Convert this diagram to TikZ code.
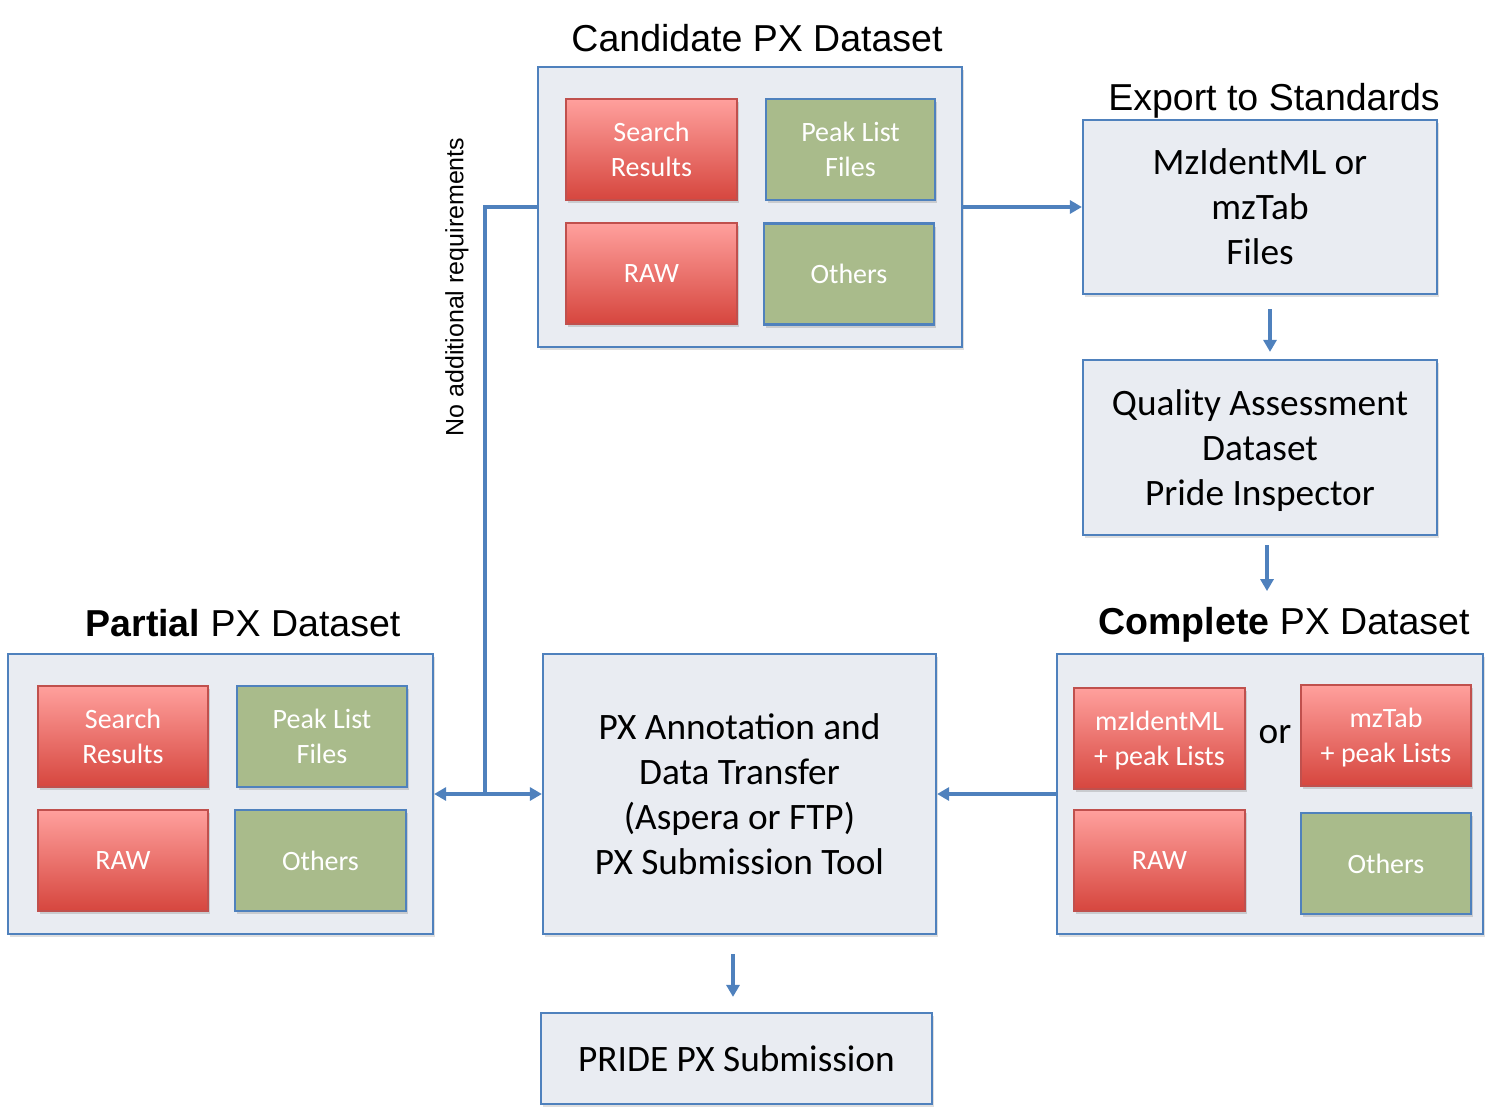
\documentclass[tikz,border=0pt]{standalone}
\usepackage{fontspec}
\setmainfont{Carlito}
\newfontfamily\pxarial{Liberation Sans}
\usetikzlibrary{arrows.meta,shadows}
\definecolor{pxblue}{HTML}{4F81BD}
\definecolor{pxbg}{HTML}{E9ECF2}
\definecolor{redtop}{RGB}{255,160,157}
\definecolor{redbot}{RGB}{214,70,62}
\definecolor{redline}{RGB}{192,80,77}
\definecolor{pxgreen}{RGB}{169,187,139}
\newcommand\pxsmallfont{\fontsize{28}{35}\selectfont}
\newcommand\pxbigfont{\fontsize{37.3}{45}\selectfont}
\newcommand\pxtitlefont{\pxarial\fontsize{37.5}{45}\selectfont}
\begin{document}
\begin{tikzpicture}[x=1pt,y=-1pt,
  container/.style={draw=pxblue, fill=pxbg, line width=2.2pt, inner sep=0pt,
    drop shadow={opacity=0.25, shadow xshift=2pt, shadow yshift=-3pt}},
  bigbox/.style={container, font=\pxbigfont, align=center, text=black, text depth=0pt},
  redbox/.style={draw=redline, line width=1.8pt, top color=redtop, bottom color=redbot,
    text=white, font=\pxsmallfont, align=center, inner sep=0pt, text depth=0pt,
    minimum width=171pt, minimum height=101pt,
    drop shadow={opacity=0.3, shadow xshift=2pt, shadow yshift=-3pt}},
  greenbox/.style={draw=pxblue, line width=2.2pt, fill=pxgreen,
    text=white, font=\pxsmallfont, align=center, inner sep=0pt, text depth=0pt,
    minimum width=170pt, minimum height=101pt,
    drop shadow={opacity=0.3, shadow xshift=2pt, shadow yshift=-3pt}},
  title/.style={font=\pxtitlefont, anchor=base, inner sep=0pt, text=black},
  conn/.style={draw=pxblue, line width=3.8pt},
  arr/.style={conn, -{Triangle[length=12pt,width=13pt]}}
]
\useasboundingbox (0,0) rectangle (1493,1114);

% Candidate PX Dataset
\node[title] (tcand) at (757,51) {Candidate PX Dataset};
\node[container, minimum width=424pt, minimum height=280pt] (cand) at (750,207) {};
\node[redbox] (cs) at (651.5,149.5) {Search\\Results};
\node[greenbox, minimum width=169pt] (cp) at (850.5,149.5) {Peak List\\Files};
\node[redbox] (cr) at (651.5,273.5) {RAW};
\node[greenbox] (co) at (849,274) {Others};

% Export to standards
\node[title] (texp) at (1274,110) {Export to Standards};
\node[bigbox, minimum width=354pt, minimum height=174pt] (mz) at (1260,207) {MzIdentML or\\mzTab\\Files};
\node[bigbox, minimum width=354pt, minimum height=175pt] (qa) at (1260,447.5) {Quality Assessment\\Dataset\\Pride Inspector};

% Complete PX Dataset
\node[title] (tcomp) at (1284,634) {\textbf{Complete} PX Dataset};
\node[container, minimum width=426pt, minimum height=280pt] (comp) at (1270,794) {};
\node[redbox] (m1) at (1159.5,738.5) {mzIdentML\\+ peak Lists};
\node[redbox, minimum width=170pt] (m2) at (1386,735.5) {mzTab\\+ peak Lists};
\node[redbox] (cr2) at (1159.5,860.5) {RAW};
\node[greenbox] (co2) at (1386,863.5) {Others};
\node[font=\pxbigfont, text=black] (or) at (1275,735) {or};

% PX annotation
\node[bigbox, minimum width=393pt, minimum height=280pt] (px) at (739.5,794) {PX Annotation and\\Data Transfer\\(Aspera or FTP)\\PX Submission Tool};
\node[bigbox, minimum width=391pt, minimum height=91pt] (pride) at (736.5,1058.5) {PRIDE PX Submission};

% Partial PX Dataset
\node[title] (tpart) at (243,636) {\textbf{Partial} PX Dataset};
\node[container, minimum width=425pt, minimum height=280pt] (part) at (220.5,794) {};
\node[redbox, minimum width=170pt] (ps) at (123,736.5) {Search\\Results};
\node[greenbox] (pp) at (322,736.5) {Peak List\\Files};
\node[redbox, minimum width=170pt] (pr) at (123,860.5) {RAW};
\node[greenbox, minimum width=171pt] (po) at (320.5,860.5) {Others};

% connectors
\coordinate (j1) at (485,207);
\coordinate (j2) at (485,794);
\draw[arr] (cand.east) -- (mz.west);
\draw[arr] ([xshift=10pt,yshift=-14pt]mz.south) -- ([xshift=10pt,yshift=7pt]qa.north);
\draw[arr] ([xshift=7pt,yshift=-9pt]qa.south) -- ([xshift=7pt,yshift=-55pt]qa.south);
\draw[arr] (comp.west) -- (px.east);
\draw[arr] ([xshift=-6.5pt,yshift=-19pt]px.south) -- ([xshift=-3.5pt,yshift=15pt]pride.north);
\draw[conn] (cand.west) -- (j1) -- (j2);
\draw[arr] (j2) -- (part.east);
\draw[arr] (j2) -- (px.west);
\node[font=\pxarial\fontsize{25}{30}\selectfont, rotate=90, inner sep=0pt] (noreq) at (457,287) {No additional requirements};
\end{tikzpicture}
\end{document}
